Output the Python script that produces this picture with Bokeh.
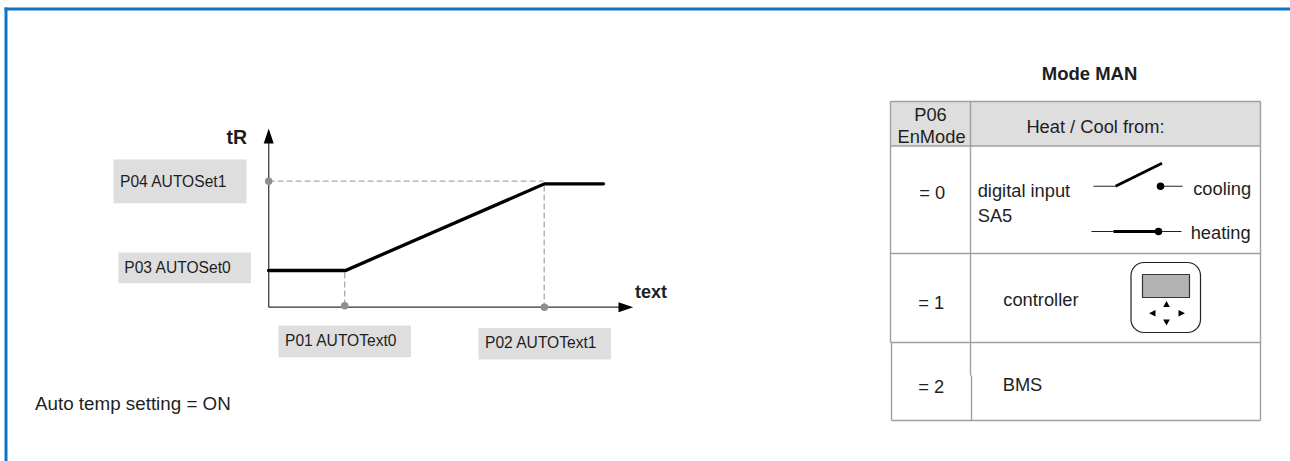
from bokeh.plotting import figure
from bokeh.models import Range1d
from bokeh.core.properties import value
from bokeh.embed import file_html
from bokeh.resources import INLINE

W, H = 1290, 461
FONT = "Liberation Sans"
GREY_BOX = "#dedede"
AXIS = "#4d4d4d"
DASH = "#a9a9a9"
DOT = "#8f8f8f"
RULE = "#a0a0a0"
INK = "#1e1e1e"
BLUE = "#0f76c4"

# schedule: outdoor temperature break points -> room set point (diagram units)
curve_x = [268, 345, 544, 603]
curve_y = [270, 270, 183.3, 183.3]
axis_origin = (268.2, 306.7)
axis_y_top = 142
axis_x_end = 619
guide_h_x = [268.2, 543]
guide_h_y = [180.7, 180.7]
guide_v1_x = [344.2, 344.2]
guide_v1_y = [272, 305]
guide_v2_x = [543.7, 543.7]
guide_v2_y = [185, 307]
dots_x = [268.2, 344.2, 543.9]
dots_y = [180.7, 305.3, 306.7]

# grey parameter boxes
box_left = [113, 118, 278, 478]
box_right = [246, 250.5, 410.5, 610.5]
box_top = [159, 252, 325, 327.5]
box_bottom = [202.7, 282.7, 356.7, 359]
box_labels = ["P04 AUTOSet1", "P03 AUTOSet0", "P01 AUTOText0", "P02 AUTOText1"]
box_label_x = [119.5, 123.8, 284.5, 484.5]
box_label_y = [180.7, 266.7, 340, 342]

# table
table_left, table_right = 890, 1260
table_col = 970
row_lines = [101, 145.5, 253, 342, 420]
cells_center = ["P06", "EnMode", "Heat / Cool from:", "= 0", "= 1", "= 2"]
cells_center_x = [930, 931, 1095, 931.7, 930.7, 930.7]
cells_center_y = [113.5, 136, 126, 192, 301.5, 386]
cells_left = ["digital input", "SA5", "cooling", "heating", "controller", "BMS"]
cells_left_x = [977.2, 977.2, 1192.7, 1190.2, 1002.8, 1002.2]
cells_left_y = [189.5, 215, 187.5, 232, 299, 383.5]

p = figure(width=W, height=H, x_range=Range1d(0, W), y_range=Range1d(H, 0),
           toolbar_location=None, output_backend="svg", min_border=0,
           outline_line_color=None, background_fill_color="white",
           border_fill_color="white", margin=0)
p.axis.visible = False
p.grid.visible = False

# page frame
p.quad(left=[4, 4], right=[W, 7], top=[7, 7], bottom=[10, H], fill_color=BLUE, line_color=None)

# parameter boxes
p.quad(left=box_left, right=box_right, top=box_top, bottom=box_bottom, fill_color=GREY_BOX, line_color=None)

# axes
ox, oy = axis_origin
p.line([ox, ox], [axis_y_top, oy], line_color=AXIS, line_width=1.4)
p.line([ox, axis_x_end], [oy, oy], line_color="#333333", line_width=1.3)
p.patch([ox, ox - 5, ox + 5], [128, 143, 143], fill_color="black", line_color=None)
p.patch([632.7, 618, 618], [oy, oy - 5, oy + 5], fill_color="black", line_color=None)

# guides
p.line(guide_h_x, guide_h_y, line_color=DASH, line_width=1.3, line_dash="6 3")
p.line(guide_v1_x, guide_v1_y, line_color=DASH, line_width=1.3, line_dash="6 3")
p.line(guide_v2_x, guide_v2_y, line_color=DASH, line_width=1.3, line_dash="6 3")
p.scatter(dots_x, dots_y, size=7.5, fill_color=DOT, line_color=None)

# curve
p.line(curve_x, curve_y, line_color="black", line_width=3.3, line_cap="round", line_join="miter")

# table
p.quad(left=[table_left], right=[table_right], top=[row_lines[0]], bottom=[row_lines[1]],
       fill_color=GREY_BOX, line_color=None)
p.multi_line(
    [[table_left, table_right]] * 4 + [[891, table_right]],
    [[y, y] for y in row_lines[:4]] + [[row_lines[4], row_lines[4]]],
    line_color=RULE, line_width=1.4)
p.multi_line(
    [[table_left, table_left], [891, 891], [table_col, table_col], [971, 971], [table_right, table_right]],
    [[row_lines[0], row_lines[3]], [row_lines[3], row_lines[4]], [row_lines[0], 375],
     [375, row_lines[4]], [row_lines[0], row_lines[4]]],
    line_color=RULE, line_width=1.4)

# switch symbols
p.multi_line([[1093, 1115], [1160, 1182], [1091, 1113], [1158, 1181]],
             [[185.7, 185.7], [185.7, 185.7], [231, 231], [231, 231]],
             line_color="#222222", line_width=1.1)
p.multi_line([[1115, 1161.5], [1113, 1158]], [[185.7, 162.7], [231, 231]],
             line_color="black", line_width=2.8)
p.scatter([1160, 1158], [185.7, 231], size=7.5, fill_color="black", line_color=None)

# controller icon
p.quad(left=[1130.5], right=[1200], top=[262], bottom=[332], fill_color=None,
       line_color="#222222", line_width=1.2, border_radius=13)
p.quad(left=[1142], right=[1189], top=[274], bottom=[297], fill_color="#b3b3b3",
       line_color="#333333", line_width=1.2)
p.patches([[1166, 1162.7, 1169.3], [1166, 1162.7, 1169.3], [1148.5, 1155, 1155], [1184.5, 1178, 1178]],
          [[300.5, 306.5, 306.5], [325, 319, 319], [312.7, 309.4, 316], [312.7, 309.4, 316]],
          fill_color="black", line_color=None)

# texts
def label(x, y, text, size, align="left", style="normal"):
    p.text(x, y, text=text, text_font=value(FONT), text_font_size=size, text_font_style=style,
           text_align=align, text_baseline="middle", text_color=INK)

label(box_label_x, box_label_y, box_labels, "15.6px")
label([34.5], [403], ["Auto temp setting = ON"], "18.8px")
label([246.5], [136], ["tR"], "19.5px", "right", "bold")
label([634.5], [291.7], ["text"], "18px", "left", "bold")
label([1089], [72.7], ["Mode MAN"], "18.5px", "center", "bold")
label(cells_center_x, cells_center_y, cells_center, "18.3px", "center")
label(cells_left_x, cells_left_y, cells_left, "18.3px")

open("out.html", "w").write(file_html(p, INLINE))
